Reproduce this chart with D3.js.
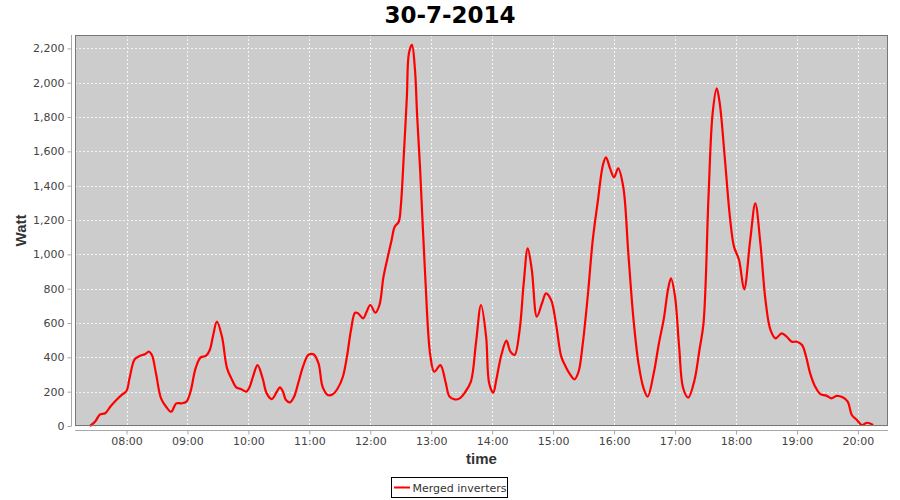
<!DOCTYPE html>
<html><head><meta charset="utf-8">
<script src="https://cdn.jsdelivr.net/npm/d3@7"></script>
<style>
body{margin:0;background:#fff;}
svg{display:block;}
</style></head>
<body><svg id="c" width="900" height="500"></svg>
<script>
const title = "30-7-2014";
const seriesName = "Merged inverters";
const times = ["07:24","07:29","07:34","07:39","07:44","07:50","07:55","08:00","08:03","08:08","08:13","08:18","08:22","08:25","08:29","08:34","08:39","08:44","08:49","08:54","08:59","09:03","09:08","09:13","09:18","09:22","09:25","09:29","09:34","09:39","09:44","09:48","09:53","09:58","10:01","10:05","10:09","10:14","10:18","10:23","10:28","10:31","10:34","10:37","10:41","10:45","10:49","10:54","10:59","11:04","11:09","11:13","11:18","11:23","11:28","11:33","11:37","11:41","11:45","11:48","11:53","11:56","12:00","12:05","12:09","12:13","12:18","12:21","12:24","12:28","12:30","12:33","12:36","12:38","12:41","12:44","12:46","12:49","12:54","12:59","13:03","13:09","13:14","13:18","13:23","13:28","13:33","13:39","13:44","13:49","13:54","13:57","14:01","14:04","14:09","14:14","14:18","14:22","14:27","14:31","14:35","14:39","14:44","14:49","14:53","14:58","15:03","15:08","15:12","15:16","15:21","15:25","15:29","15:34","15:39","15:44","15:49","15:52","15:56","16:00","16:04","16:09","16:14","16:19","16:24","16:29","16:33","16:39","16:44","16:49","16:53","16:56","17:00","17:04","17:08","17:13","17:19","17:24","17:28","17:33","17:37","17:41","17:44","17:49","17:54","17:58","18:03","18:08","18:14","18:19","18:24","18:29","18:34","18:39","18:45","18:50","18:55","19:00","19:05","19:09","19:13","19:18","19:23","19:29","19:34","19:39","19:45","19:50","19:54","19:59","20:04","20:09","20:15"];
const watts = [0,25,68,74,112,151,180,204,278,388,408,418,433,413,307,161,112,83,132,132,142,200,336,400,408,443,520,608,520,336,268,225,214,200,225,297,355,278,190,157,200,225,200,151,138,171,249,350,414,418,365,229,181,185,220,287,404,559,660,656,627,660,705,660,705,870,1006,1084,1161,1190,1278,1579,1918,2171,2220,2074,1822,1501,880,414,316,355,258,171,155,161,194,258,482,705,520,249,194,268,414,497,433,414,559,831,1035,909,637,715,773,734,588,404,350,307,272,316,472,753,1084,1311,1521,1565,1501,1449,1501,1394,1006,627,365,220,171,307,478,627,792,860,753,462,220,165,264,443,598,1346,1822,1967,1880,1560,1219,1045,967,796,1084,1297,1064,734,559,511,540,520,491,491,472,404,307,229,186,177,161,175,167,142,64,35,6,19,6];
const xTickLabels = ["08:00","09:00","10:00","11:00","12:00","13:00","14:00","15:00","16:00","17:00","18:00","19:00","20:00"];
const yTickValues = [0,200,400,600,800,1000,1200,1400,1600,1800,2000,2200];
const xDomain = ["07:09:18","20:29:38"];
const yMax = 2278;

const parseT = d3.utcParse("%H:%M");
const parseTs = d3.utcParse("%H:%M:%S");
const data = times.map((t,i)=>({t:parseT(t), v:watts[i]}));

const L=75, R=888, T=35, B=426;
const svg = d3.select("#c");
const x = d3.scaleUtc().domain(xDomain.map(parseTs)).range([L,R]);
const y = d3.scaleLinear().domain([0,yMax]).range([B,T]);

// title
svg.append("text").attr("x",450).attr("y",23).attr("text-anchor","middle")
  .attr("font-family","DejaVu Sans").attr("font-weight","bold").attr("font-size",23)
  .attr("fill","#000").text(title);

// plot background
svg.append("rect").attr("x",L).attr("y",T).attr("width",R-L).attr("height",B-T).attr("fill","#cccccc");

// grid
const xt = xTickLabels.map(parseT);
svg.append("g").selectAll("line").data(xt).join("line")
  .attr("x1",d=>Math.round(x(d))+0.5).attr("x2",d=>Math.round(x(d))+0.5)
  .attr("y1",T).attr("y2",B).attr("stroke","#f4f4f4").attr("stroke-width",1).attr("stroke-dasharray","2,2");
svg.append("g").selectAll("line").data(yTickValues).join("line")
  .attr("x1",L).attr("x2",R)
  .attr("y1",d=>Math.round(y(d))+0.5).attr("y2",d=>Math.round(y(d))+0.5)
  .attr("stroke","#f4f4f4").attr("stroke-width",1).attr("stroke-dasharray","2,2");

// line
const line = d3.line().x(d=>x(d.t)).y(d=>y(d.v)).curve(d3.curveCatmullRom.alpha(0.5));
svg.append("path").datum(data).attr("d",line).attr("fill","none")
  .attr("stroke","#ff0000").attr("stroke-width",2.2).attr("stroke-linejoin","round");

// plot outline
svg.append("rect").attr("x",L+0.5).attr("y",T+0.5).attr("width",R-L-1).attr("height",B-T-1)
  .attr("fill","none").attr("stroke","#777").attr("stroke-width",1);

// axes
const yAxis = d3.axisLeft(y).tickValues(yTickValues).tickFormat(d3.format(",")).tickSize(4).tickSizeOuter(0).tickPadding(3);
const gy = svg.append("g").attr("transform","translate(71.5,0)").call(yAxis);
const xAxis = d3.axisBottom(x).tickValues(xt).tickFormat(d3.utcFormat("%H:%M")).tickSize(4).tickSizeOuter(0).tickPadding(3);
const gx = svg.append("g").attr("transform","translate(0,430.5)").call(xAxis);
[gx,gy].forEach(g=>{
  g.select(".domain").attr("stroke","#a8a8a8");
  g.selectAll(".tick line").attr("stroke","#a8a8a8");
  g.selectAll(".tick text").attr("fill","#444").attr("font-family","DejaVu Sans").attr("font-size",11);
});
gy.select(".domain").attr("d",`M0,${T}V${B}`);
gx.select(".domain").attr("d",`M${L},0H${R}`);

// axis labels
svg.append("text").attr("transform",`translate(26,${(T+B)/2}) rotate(-90)`).attr("text-anchor","middle")
  .attr("font-family","Liberation Sans").attr("font-weight","bold").attr("font-size",15).attr("fill","#333").text("Watt");
svg.append("text").attr("x",(L+R)/2).attr("y",464).attr("text-anchor","middle")
  .attr("font-family","Liberation Sans").attr("font-weight","bold").attr("font-size",15).attr("fill","#333").text("time");

// legend
const lg = svg.append("g");
lg.append("rect").attr("x",391.5).attr("y",477.5).attr("width",116).attr("height",20).attr("fill","#fff").attr("stroke","#000");
lg.append("line").attr("x1",394).attr("x2",410).attr("y1",487.5).attr("y2",487.5).attr("stroke","#ff0000").attr("stroke-width",2);
lg.append("text").attr("x",412.5).attr("y",491.5).attr("font-family","DejaVu Sans").attr("font-size",11).attr("fill","#333").text(seriesName);
</script></body></html>
